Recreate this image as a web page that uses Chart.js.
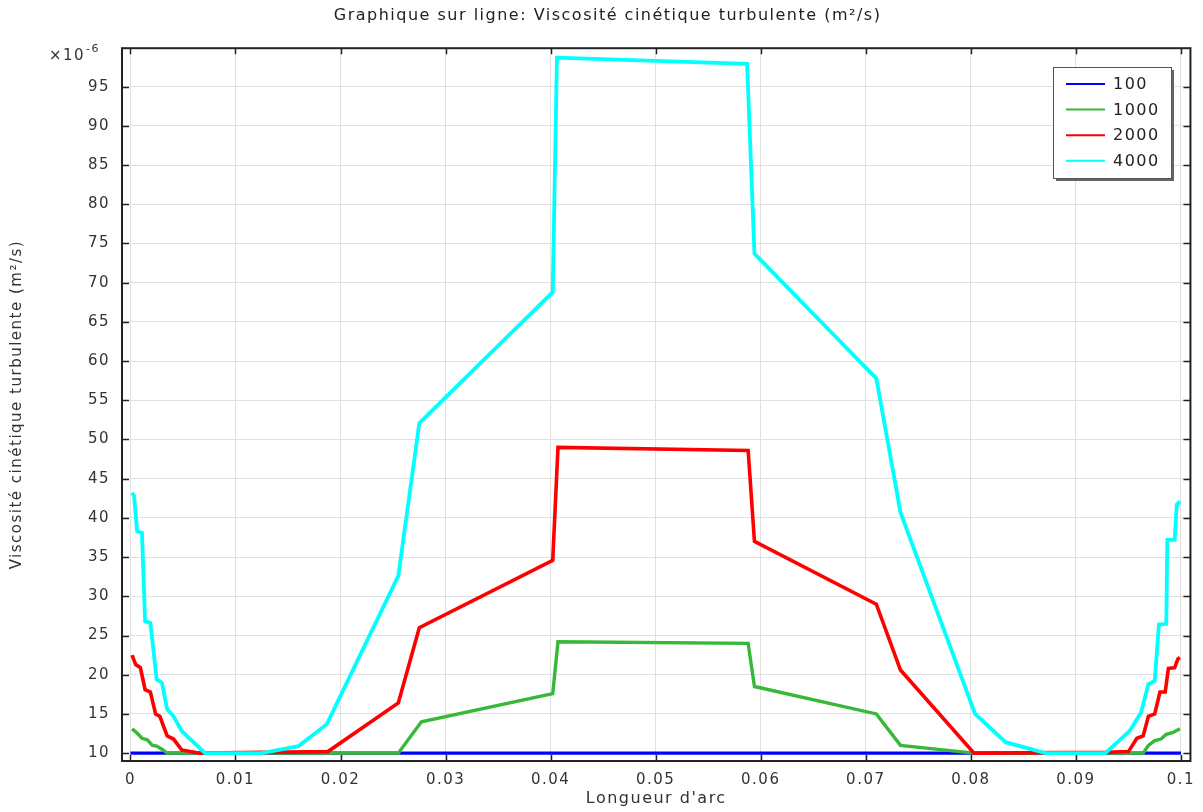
<!DOCTYPE html>
<html>
<head>
<meta charset="utf-8">
<title>Viscosité cinétique turbulente</title>
<script src="https://cdn.jsdelivr.net/npm/chart.js@4"></script>
<style>
	html, body { margin: 0; padding: 0; background: #fff; }
	#wrap { width: 1203px; height: 812px; }
</style>
</head>
<body>
<div id="wrap"><canvas id="c"></canvas></div>
<script>
// values in units of 1e-6 m2/s
var labels = ["100", "1000", "2000", "4000"];
var colors = ["#0000ff", "#38b838", "#ff0000", "#00ffff"];

var x100 = [0, 0.1];
var y100 = [10, 10];

var x1000 = [0.00016, 0.0006, 0.0011, 0.0016, 0.0021, 0.0025, 0.0030, 0.0035, 0.0255, 0.0277, 0.0402, 0.0407,
	0.0588, 0.0594, 0.0710, 0.0733, 0.0803, 0.0964, 0.0969, 0.0975, 0.0981, 0.0986, 0.0992, 0.0999];
var y1000 = [13.1, 12.6, 11.9, 11.7, 11.0, 10.9, 10.5, 10.0, 10.0, 14.0, 17.6, 24.2,
	24.0, 18.5, 15.0, 11.0, 10.0, 10.0, 11.0, 11.6, 11.8, 12.4, 12.6, 13.1];

var x2000 = [0.00016, 0.0005, 0.00095, 0.0014, 0.0019, 0.0024, 0.0028, 0.0035, 0.0041, 0.0049, 0.0066, 0.0188,
	0.0255, 0.0275, 0.0402, 0.0407, 0.0588, 0.0594, 0.0710, 0.0733, 0.0803, 0.0928, 0.0950, 0.0958,
	0.0964, 0.0969, 0.0975, 0.0980, 0.0985, 0.0988, 0.0994, 0.0997, 0.0999];
var y2000 = [22.5, 21.3, 20.9, 18.1, 17.8, 15.0, 14.7, 12.2, 11.8, 10.4, 10.0, 10.2,
	16.4, 26.0, 34.6, 49.0, 48.6, 37.0, 29.0, 20.6, 10.0, 10.1, 10.2, 11.9,
	12.2, 14.7, 15.0, 17.8, 17.8, 20.8, 20.9, 22.0, 22.2];

var x4000 = [0.00016, 0.00035, 0.00064, 0.0011, 0.0014, 0.0019, 0.0025, 0.0030, 0.0035, 0.0041, 0.0049, 0.0071,
	0.0125, 0.0160, 0.0187, 0.0255, 0.0275, 0.0402, 0.0406, 0.0587, 0.0594, 0.0710, 0.0733, 0.0804,
	0.0833, 0.0871, 0.0928, 0.0951, 0.0962, 0.0969, 0.0975, 0.0979, 0.0986, 0.0987, 0.0994, 0.0996, 0.0999];
var y4000 = [43.2, 42.8, 38.3, 38.1, 26.8, 26.6, 19.4, 19.0, 15.6, 14.7, 12.8, 10.0,
	10.0, 10.9, 13.7, 32.6, 52.1, 68.8, 98.7, 97.9, 73.7, 57.8, 40.7, 15.0,
	11.4, 10.0, 10.0, 12.8, 15.2, 18.8, 19.2, 26.4, 26.5, 37.2, 37.2, 41.7, 42.1];

var xTicks = [0, 0.01, 0.02, 0.03, 0.04, 0.05, 0.06, 0.07, 0.08, 0.09, 0.1];
var yTicks = [10, 15, 20, 25, 30, 35, 40, 45, 50, 55, 60, 65, 70, 75, 80, 85, 90, 95];

function pts(xs, ys) {
	return xs.map(function(x, i) { return {x: x, y: ys[i]}; });
}

var seriesX = [x100, x1000, x2000, x4000];
var seriesY = [y100, y1000, y2000, y4000];
var widths = [3.2, 3.4, 3.6, 3.8];

var datasets = labels.map(function(l, i) {
	return {
		label: l,
		data: pts(seriesX[i], seriesY[i]),
		borderColor: colors[i],
		backgroundColor: colors[i],
		borderWidth: widths[i],
		pointRadius: 0,
		tension: 0,
		order: 4 - i
	};
});

Chart.defaults.font.family = "'DejaVu Sans', sans-serif";
Chart.defaults.font.size = 15;
Chart.defaults.color = "#333";

var spacing = {
	id: "spacing",
	beforeDraw: function(chart) { chart.ctx.letterSpacing = "1.5px"; }
};

// frame, inner ticks, x10^-6 marker and legend box
var decor = {
	id: "decor",
	afterDraw: function(chart) {
		var ctx = chart.ctx, a = chart.chartArea;
		var xs = chart.scales.x, ys = chart.scales.y;
		ctx.save();
		ctx.strokeStyle = "#222";
		ctx.lineWidth = 1.5;
		xTicks.forEach(function(v) {
			var px = Math.round(xs.getPixelForValue(v)) + 0.5;
			ctx.beginPath();
			ctx.moveTo(px, a.bottom); ctx.lineTo(px, a.bottom - 6);
			ctx.moveTo(px, a.top); ctx.lineTo(px, a.top + 6);
			ctx.stroke();
		});
		yTicks.forEach(function(v) {
			var py = Math.round(ys.getPixelForValue(v)) + 0.5;
			ctx.beginPath();
			ctx.moveTo(a.left, py); ctx.lineTo(a.left + 7, py);
			ctx.moveTo(a.right, py); ctx.lineTo(a.right - 7, py);
			ctx.stroke();
		});
		ctx.lineWidth = 2;
		ctx.strokeRect(a.left, a.top, a.right - a.left, a.bottom - a.top);

		ctx.fillStyle = "#333";
		ctx.textBaseline = "alphabetic";
		ctx.textAlign = "left";
		ctx.font = "15px 'DejaVu Sans'";
		ctx.fillText("×10", 49, 60);
		ctx.font = "11px 'DejaVu Sans'";
		ctx.fillText("-6", 86, 52);

		// legend
		var lx = 1053, ly = 67, lw = 118, lh = 111;
		ctx.fillStyle = "#666";
		ctx.fillRect(lx + 3, ly + 3, lw, lh);
		ctx.fillStyle = "#fff";
		ctx.fillRect(lx, ly, lw, lh);
		ctx.strokeStyle = "#555";
		ctx.lineWidth = 1;
		ctx.strokeRect(lx + 0.5, ly + 0.5, lw, lh);
		ctx.font = "16px 'DejaVu Sans'";
		ctx.textBaseline = "middle";
		chart.data.datasets.forEach(function(ds, i) {
			var yy = 84 + i * 25.6;
			ctx.strokeStyle = ds.borderColor;
			ctx.lineWidth = 2;
			ctx.beginPath();
			ctx.moveTo(1066, yy); ctx.lineTo(1105, yy);
			ctx.stroke();
			ctx.fillStyle = "#222";
			ctx.fillText(ds.label, 1113, yy + 1);
		});
		ctx.restore();
	}
};

new Chart(document.getElementById("c"), {
	type: "line",
	data: {datasets: datasets},
	plugins: [spacing, decor],
	options: {
		responsive: true,
		maintainAspectRatio: false,
		animation: false,
		layout: {padding: {left: 0, right: 10, top: 0, bottom: 0}},
		plugins: {
			legend: {display: false},
			tooltip: {enabled: false},
			title: {
				display: true,
				// leading spaces nudge the centred title a little right, like the original
				text: "\u2003\u2009Graphique sur ligne: Viscosité cinétique turbulente (m²/s)",
				font: {size: 16, weight: "normal"},
				color: "#222",
				padding: {top: 6, bottom: 23}
			}
		},
		scales: {
			x: {
				type: "linear",
				min: -0.0008,
				max: 0.1009,
				afterBuildTicks: function(s) { s.ticks = xTicks.map(function(v) { return {value: v}; }); },
				afterFit: function(s) { s.height = 51; },
				grid: {color: "#e0e0e0", drawTicks: false},
				border: {display: false},
				ticks: {
					padding: 10,
					maxRotation: 0,
					autoSkip: false,
					color: "#333",
					callback: function(v) { return String(v); }
				},
				title: {display: true, text: "Longueur d'arc", color: "#333", font: {size: 16}, padding: {top: 0, bottom: 4}}
			},
			y: {
				type: "linear",
				min: 9.0,
				max: 99.9,
				afterBuildTicks: function(s) { s.ticks = yTicks.map(function(v) { return {value: v}; }); },
				afterFit: function(s) { s.width = 122; },
				grid: {color: "#e0e0e0", drawTicks: false},
				border: {display: false},
				ticks: {padding: 12, autoSkip: false, color: "#333"},
				title: {display: true, text: "Viscosité cinétique turbulente (m²/s)", color: "#333", font: {size: 15}, padding: {top: 8, bottom: 0}}
			}
		}
	}
});
</script>
</body>
</html>
